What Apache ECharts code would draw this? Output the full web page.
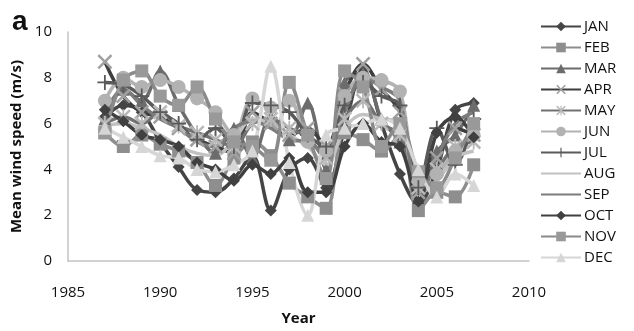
<!DOCTYPE html>
<html>
<head>
<meta charset="utf-8">
<script src="https://cdn.jsdelivr.net/npm/echarts@6/dist/echarts.min.js"></script>
<style>
  html, body { margin: 0; padding: 0; background: #fff; }
  #chart { width: 634px; height: 331px; }
</style>
</head>
<body>
<div id="chart"></div>
<script>
// years on the x axis
const years = [1987, 1988, 1989, 1990, 1991, 1992, 1993, 1994, 1995, 1996, 1997,
               1998, 1999, 2000, 2001, 2002, 2003, 2004, 2005, 2006, 2007]
const months = ['JAN', 'FEB', 'MAR', 'APR', 'MAY', 'JUN', 'JUL', 'AUG', 'SEP', 'OCT', 'NOV', 'DEC']

// mean wind speed (m/s), one array per month
const jan = [6.3, 6.8, 6.5, 5.2, 4.1, 3.1, 3.0, 3.6, 4.6, 2.2, 4.0, 4.5, 3.2, 5.8, 8.4, 6.0, 3.8, 2.5, 4.0, 6.6, 6.9]
const feb = [5.6, 5.0, 5.5, 5.1, 4.8, 4.3, 3.3, 4.5, 5.2, 4.6, 3.4, 2.8, 2.3, 5.6, 5.3, 4.8, 5.5, 2.2, 3.0, 2.8, 4.2]
const mar = [6.2, 7.5, 7.0, 8.3, 6.8, 5.5, 4.7, 5.8, 4.5, 6.3, 5.3, 6.9, 4.0, 7.8, 8.2, 6.2, 5.2, 3.5, 4.8, 5.5, 6.8]
const apr = [8.7, 7.2, 6.5, 6.3, 5.8, 5.3, 5.0, 4.7, 6.5, 6.0, 5.5, 5.8, 5.0, 7.3, 8.6, 7.5, 6.5, 3.0, 4.5, 5.8, 5.5]
const may = [6.0, 6.3, 6.0, 6.5, 5.9, 5.6, 5.3, 5.0, 6.0, 6.2, 5.8, 5.4, 4.5, 6.2, 7.0, 6.0, 5.5, 3.2, 4.0, 5.0, 5.2]
const jun = [7.0, 8.0, 7.6, 7.9, 7.6, 7.1, 6.5, 5.5, 7.1, 6.7, 7.0, 5.2, 4.8, 7.2, 8.0, 7.9, 7.4, 3.5, 3.8, 4.8, 5.5]
const jul = [7.8, 7.7, 7.2, 6.5, 6.0, 5.3, 5.8, 5.0, 6.9, 6.8, 6.5, 5.5, 5.0, 6.8, 7.8, 7.2, 6.8, 3.2, 5.8, 4.2, 6.2]
const aug = [5.9, 6.0, 5.8, 5.5, 5.0, 4.7, 4.6, 5.3, 6.2, 6.0, 5.5, 5.0, 4.2, 5.8, 6.4, 6.2, 6.1, 2.9, 3.5, 4.5, 4.8]
const sep = [6.5, 7.5, 6.8, 6.2, 5.8, 5.2, 5.0, 5.8, 6.1, 5.8, 5.3, 5.2, 4.7, 6.5, 8.0, 7.6, 7.0, 2.6, 4.5, 6.0, 6.5]
const oct = [6.6, 6.1, 5.5, 5.3, 5.0, 4.3, 4.0, 3.5, 4.2, 3.8, 4.5, 3.0, 3.0, 5.0, 6.0, 5.2, 5.0, 2.6, 5.6, 6.3, 5.4]
const nov = [5.6, 7.9, 8.3, 7.2, 6.8, 7.6, 6.2, 5.2, 5.0, 4.4, 7.8, 5.5, 3.6, 8.3, 7.6, 5.0, 6.0, 3.9, 3.2, 4.5, 6.0]
const dec = [5.8, 5.4, 5.0, 4.6, 4.5, 4.0, 3.9, 4.2, 4.8, 8.5, 4.3, 2.0, 5.5, 5.8, 6.0, 6.2, 5.8, 4.0, 2.8, 3.8, 3.3]
const allValues = [jan, feb, mar, apr, may, jun, jul, aug, sep, oct, nov, dec]

// marker shapes
const xMark = 'path://M0,1.2L1.2,0L10,8.8L8.8,10Z M8.8,0L10,1.2L1.2,10L0,8.8Z'
const starMark = 'path://M0,1.2L1.2,0L10,8.8L8.8,10Z M8.8,0L10,1.2L1.2,10L0,8.8Z M4.4,0H5.6V10H4.4Z'
const plusMark = 'path://M4.4,0H5.6V10H4.4Z M0,4.4H10V5.6H0Z'

const lineColors = ['#454545', '#8e8e8e', '#6c6c6c', '#3e3e3e', '#727272', '#b2b2b2',
                    '#5a5a5a', '#c2c2c2', '#7c7c7c', '#404040', '#8a8a8a', '#d6d6d6']
const markColors = ['#454545', '#8e8e8e', '#6c6c6c', '#a0a0a0', '#b8b8b8', '#b2b2b2',
                    '#5a5a5a', 'rgba(0,0,0,0)', 'rgba(0,0,0,0)', '#404040', '#999999', '#d6d6d6']
const symbols = ['diamond', 'rect', 'triangle', xMark, starMark, 'circle',
                 plusMark, 'circle', 'circle', 'diamond', 'rect', 'triangle']
const symbolSizes = [12, 13, 13, 15, 15, 14, 15, 1, 1, 12, 13, 13]

const chart = echarts.init(document.getElementById('chart'))

const series = months.map((m, i) => {
    return {
        name: m,
        type: 'line',
        smooth: 0.35,
        data: years.map((y, j) => [y, allValues[i][j]]),
        symbol: symbols[i],
        symbolSize: symbolSizes[i],
        showSymbol: i !== 7 && i !== 8,
        lineStyle: { color: lineColors[i], width: 3.5 },
        itemStyle: { color: markColors[i] },
        emphasis: { disabled: true }
    }
})

chart.setOption({
    animation: false,
    backgroundColor: '#fff',
    title: {
        text: 'a',
        left: 7,
        top: 3,
        textStyle: { fontSize: 28, fontWeight: 'bold', color: '#111', fontFamily: 'Liberation Sans' }
    },
    grid: { left: 68, right: 105, top: 32, bottom: 66 },
    legend: {
        orient: 'vertical',
        left: 535,
        top: 14,
        itemWidth: 40,
        itemHeight: 12,
        itemGap: 6,
        textStyle: { fontSize: 15, color: '#111', fontFamily: 'Open Sans', padding: [0, 0, 0, -2] },
        data: months
    },
    xAxis: {
        type: 'value',
        min: 1985,
        max: 2010,
        interval: 5,
        name: 'Year',
        nameLocation: 'middle',
        nameGap: 50,
        nameTextStyle: { fontSize: 15, fontWeight: 'bold', color: '#111', fontFamily: 'Open Sans' },
        axisLine: { lineStyle: { color: '#c4c4c4', width: 1.5 } },
        axisTick: { show: false },
        splitLine: { show: false },
        axisLabel: { margin: 24, fontSize: 15, color: '#111', fontFamily: 'Open Sans', formatter: v => String(v) }
    },
    yAxis: {
        type: 'value',
        min: 0,
        max: 10,
        interval: 2,
        name: 'Mean wind speed (m/s)',
        nameLocation: 'middle',
        nameGap: 44,
        nameTextStyle: { fontSize: 15, fontWeight: 'bold', color: '#111', fontFamily: 'Open Sans' },
        axisLine: { show: true, lineStyle: { color: '#c4c4c4', width: 1.5 } },
        axisTick: { show: false },
        splitLine: { show: false },
        axisLabel: { margin: 16, fontSize: 15, color: '#111', fontFamily: 'Open Sans' }
    },
    series: series
})
</script>
</body>
</html>
